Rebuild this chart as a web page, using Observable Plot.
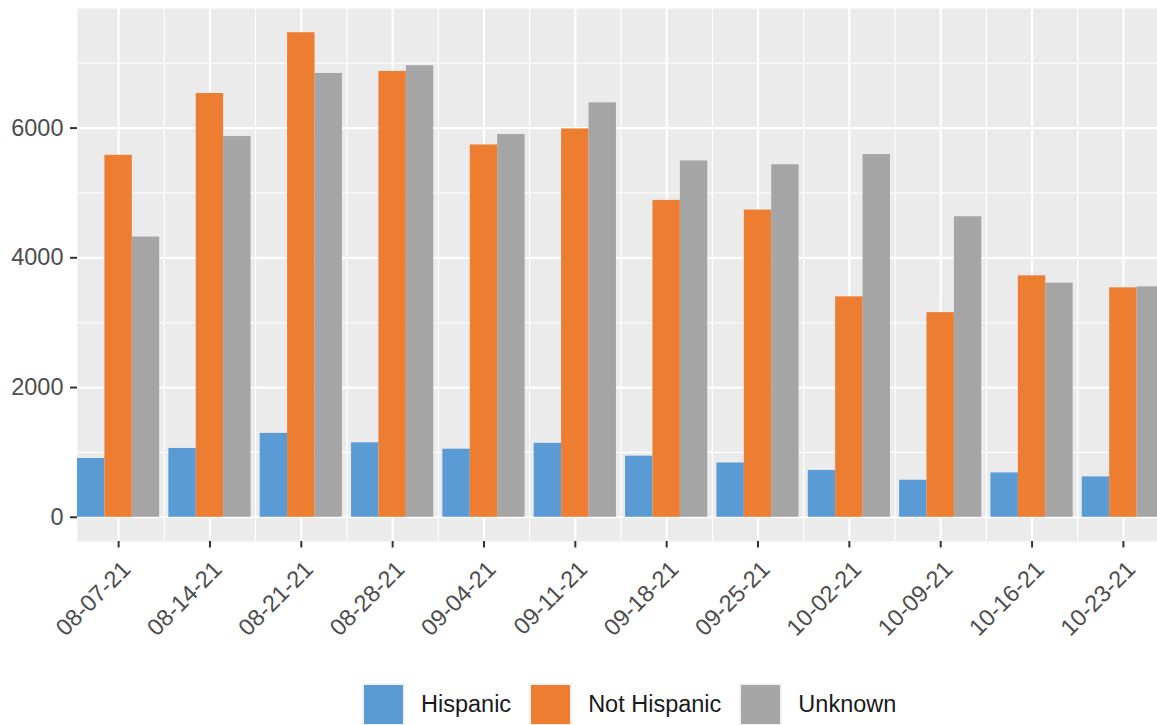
<!DOCTYPE html>
<html><head><meta charset="utf-8">
<script src="https://cdn.jsdelivr.net/npm/d3@7"></script>
<script src="https://cdn.jsdelivr.net/npm/@observablehq/plot@0.6"></script>
<style>
html,body{margin:0;padding:0;background:#fff;overflow:hidden;font-family:"Liberation Sans",Arial,sans-serif;}
#chart svg{display:block;}
#legend{display:flex;align-items:center;margin-left:362px;margin-top:8px;font-size:23.5px;color:#1a1a1a;white-space:nowrap;}
#legend .item{display:flex;align-items:center;margin-right:18px;}
#legend .key{box-sizing:border-box;width:43px;height:43px;border:2px solid #F2F2F2;margin-right:16px;}
</style></head><body>
<div id="chart"></div>
<div id="legend"></div>
<script>
const dates = ["08-07-21","08-14-21","08-21-21","08-28-21","09-04-21","09-11-21","09-18-21","09-25-21","10-02-21","10-09-21","10-16-21","10-23-21"];
const hispanic    = [906, 1061, 1293, 1148, 1050, 1140, 942, 837, 722, 571, 684, 622];
const notHispanic = [5580, 6533, 7470, 6873, 5740, 5987, 4885, 4736, 3398, 3155, 3722, 3537];
const unknown     = [4320, 5869, 6842, 6961, 5900, 6389, 5493, 5434, 5591, 4633, 3609, 3552];
const series = ["Hispanic", "Not Hispanic", "Unknown"];
const colors = ["#5B9BD5", "#ED7D31", "#A5A5A5"];
const yTicks = [0, 2000, 4000, 6000];
const yMinor = [1000, 3000, 5000, 7000];

const seriesValues = [hispanic, notHispanic, unknown];
const groupWidth = 0.9;
const barW = groupWidth / series.length;
const data = [];
dates.forEach((d, i) => {
  series.forEach((s, j) => {
    const x1 = i - groupWidth / 2 + j * barW;
    data.push({date: d, series: s, x1, x2: x1 + barW, value: seriesValues[j][i]});
  });
});
const idx = dates.map((d, i) => i);
const mids = idx.slice(0, -1).map(i => i + 0.5);
const maxV = d3.max(data, d => d.value);

const chart = Plot.plot({
  width: 1157,
  height: 675,
  marginLeft: 77,
  marginRight: -7,
  marginTop: 8,
  marginBottom: 134,
  style: {fontFamily: '"Liberation Sans", Arial, sans-serif', fontSize: "23.5px", background: "#fff", overflow: "hidden"},
  x: {domain: [-groupWidth / 2, dates.length - 1 + groupWidth / 2]},
  y: {domain: [-0.05 * maxV, 1.05 * maxV]},
  color: {domain: series, range: colors},
  marks: [
    Plot.frame({fill: "#EBEBEB", stroke: null}),
    Plot.gridY(yMinor, {stroke: "#fff", strokeOpacity: 1, strokeWidth: 1.1}),
    Plot.gridX(mids, {stroke: "#fff", strokeOpacity: 1, strokeWidth: 1.1}),
    Plot.gridY(yTicks, {stroke: "#fff", strokeOpacity: 1, strokeWidth: 2.2}),
    Plot.gridX(idx, {stroke: "#fff", strokeOpacity: 1, strokeWidth: 2.2}),
    Plot.rect(data, {x1: "x1", x2: "x2", y1: 0, y2: "value", fill: "series"}),
    Plot.axisY(yTicks, {tickSize: 7, tickPadding: 7, stroke: "#333", strokeWidth: 2, color: "#4D4D4D", fontSize: 23.5, tickFormat: d => String(d), label: null}),
    Plot.axisX(idx, {tickSize: 6.5, text: null, stroke: "#333", strokeWidth: 2, label: null}),
    Plot.axisX(idx, {tickSize: 0, tickPadding: 24, dx: 8, color: "#4D4D4D", fontSize: 23.5, tickRotate: -45, tickFormat: i => dates[i], label: null})
  ]
});
document.getElementById("chart").appendChild(chart);

const legend = document.getElementById("legend");
series.forEach((s, j) => {
  const item = document.createElement("div");
  item.className = "item";
  const key = document.createElement("div");
  key.className = "key";
  key.style.background = colors[j];
  const label = document.createElement("span");
  label.textContent = s;
  item.appendChild(key);
  item.appendChild(label);
  legend.appendChild(item);
});
</script>
</body></html>
